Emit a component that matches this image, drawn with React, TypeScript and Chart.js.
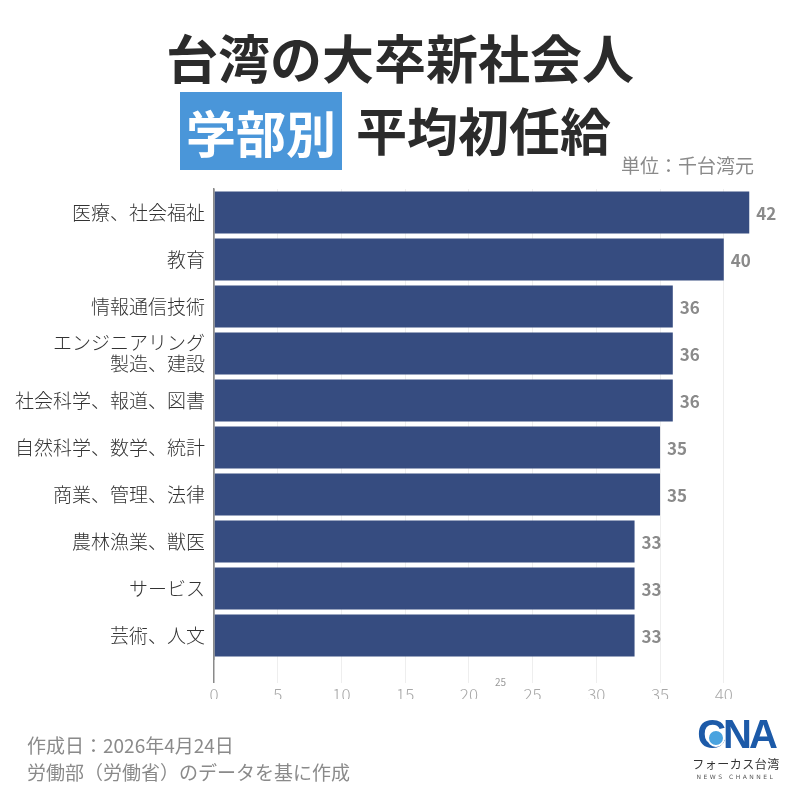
import React, { useEffect, useRef } from "react";
import { Chart, registerables } from "chart.js";

Chart.register(...registerables);

const categories: (string | string[])[] = [
  "医療、社会福祉",
  "教育",
  "情報通信技術",
  ["エンジニアリング", "製造、建設"],
  "社会科学、報道、図書",
  "自然科学、数学、統計",
  "商業、管理、法律",
  "農林漁業、獣医",
  "サービス",
  "芸術、人文",
];
const salaries = [42, 40, 36, 36, 36, 35, 35, 33, 33, 33];
const xTicks = [0, 5, 10, 15, 20, 25, 30, 35, 40];

const FONT = "'Noto Sans CJK JP', 'Noto Sans', sans-serif";

const valueLabels = {
  id: "valueLabels",
  afterDatasetsDraw(chart: any) {
    const ctx = chart.ctx;
    const meta = chart.getDatasetMeta(0);
    ctx.save();
    ctx.font = `bold 17px ${FONT}`;
    ctx.fillStyle = "#8a8a8a";
    ctx.textAlign = "left";
    ctx.textBaseline = "middle";
    meta.data.forEach((bar: any, i: number) => {
      ctx.fillText(String(chart.data.datasets[0].data[i]), bar.x + 7, bar.y + 1);
    });
    ctx.restore();
  },
};

export default function App() {
  const ref = useRef<HTMLCanvasElement | null>(null);
  useEffect(() => {
    if (!ref.current) return;
    const chart = new Chart(ref.current, {
      type: "bar",
      data: {
        labels: categories,
        datasets: [
          {
            data: salaries,
            backgroundColor: "#364c80",
            borderWidth: 0,
            barPercentage: 1,
            categoryPercentage: 0.89,
          },
        ],
      },
      options: {
        indexAxis: "y",
        animation: false,
        responsive: false,
        layout: { padding: { top: 189, right: 38, bottom: 101, left: 0 } },
        plugins: { legend: { display: false }, tooltip: { enabled: false } },
        scales: {
          x: {
            min: 0,
            max: 43,
            afterBuildTicks: (scale: any) => {
              scale.ticks = xTicks.map((v) => ({ value: v }));
            },
            afterFit: (scale: any) => {
              scale.height = 40;
            },
            ticks: {
              color: "#a8a8a8",
              font: { family: FONT, size: 17, weight: "300" },
              padding: 1,
              maxRotation: 0,
              autoSkip: false,
            },
            grid: {
              color: (c: any) => (c.tick && c.tick.value === 0 ? "#8a8a8a" : "#eeeeee"),
              lineWidth: (c: any) => (c.tick && c.tick.value === 0 ? 1.5 : 1),
              tickLength: 24,
              drawTicks: true,
            },
            border: { display: false },
          },
          y: {
            afterFit: (scale: any) => {
              scale.width = 214;
            },
            ticks: {
              color: "#333333",
              font: { family: FONT, size: 19, weight: "300", lineHeight: 1.1 },
              padding: 9,
              crossAlign: "near",
              autoSkip: false,
            },
            grid: { display: false, drawTicks: false },
            border: { display: true, color: "#8a8a8a", width: 1.5 },
          },
        },
      },
      plugins: [valueLabels],
    });
    return () => chart.destroy();
  }, []);

  return (
    <div
      style={{
        position: "fixed",
        left: 0,
        top: 0,
        width: 800,
        height: 800,
        background: "#ffffff",
        fontFamily: FONT,
        overflow: "hidden",
      }}
    >
      <canvas ref={ref} width={800} height={800} style={{ position: "absolute", left: 0, top: 0 }} />
      <div
        style={{
          position: "absolute",
          left: 0,
          width: 800,
          top: 24,
          textAlign: "center",
          fontSize: 52,
          fontWeight: 700,
          color: "#2b2b2b",
          lineHeight: "66px",
        }}
      >
        台湾の大卒新社会人
      </div>
      <div
        style={{
          position: "absolute",
          left: 180,
          top: 92,
          width: 162,
          height: 78,
          background: "#4a96d9",
          color: "#ffffff",
          fontSize: 50,
          fontWeight: 700,
          lineHeight: "78px",
          textAlign: "center",
        }}
      >
        学部別
      </div>
      <div
        style={{
          position: "absolute",
          left: 356,
          top: 92,
          fontSize: 51,
          fontWeight: 700,
          color: "#2b2b2b",
          lineHeight: "74px",
          whiteSpace: "nowrap",
        }}
      >
        平均初任給
      </div>
      <div
        style={{
          position: "absolute",
          left: 621,
          top: 151,
          fontSize: 19,
          color: "#8a8a8a",
          lineHeight: "28px",
          whiteSpace: "nowrap",
        }}
      >
        単位：千台湾元
      </div>
      <div
        style={{
          position: "absolute",
          left: 495,
          top: 675,
          fontSize: 10,
          color: "#9a9a9a",
          lineHeight: "14px",
        }}
      >
        25
      </div>
      <div
        style={{
          position: "absolute",
          left: 27,
          top: 731,
          fontSize: 19,
          color: "#8a8a8a",
          lineHeight: "27px",
          whiteSpace: "nowrap",
        }}
      >
        作成日：2026年4月24日
        <br />
        労働部（労働省）のデータを基に作成
      </div>
      <div style={{ position: "absolute", left: 690, top: 712, width: 92, textAlign: "center" }}>
        <div style={{ position: "relative", height: 44 }}>
          <div
            style={{
              fontFamily: "'Liberation Sans', Arial, sans-serif",
              fontWeight: 900,
              fontSize: 40,
              color: "#1c5aa8",
              lineHeight: "44px",
              letterSpacing: -3,
            }}
          >
            CNA
          </div>
          <div
            style={{
              position: "absolute",
              left: 17,
              top: 17,
              width: 14,
              height: 14,
              borderRadius: "50%",
              background: "#4aa3df",
              border: "2px solid #ffffff",
            }}
          />
        </div>
        <div style={{ fontSize: 12, color: "#333", lineHeight: "16px", letterSpacing: 0.5 }}>フォーカス台湾</div>
        <div
          style={{
            fontSize: 6,
            color: "#555",
            lineHeight: "9px",
            letterSpacing: 2.5,
            fontFamily: "'DejaVu Sans', sans-serif",
          }}
        >
          NEWS CHANNEL
        </div>
      </div>
    </div>
  );
}
